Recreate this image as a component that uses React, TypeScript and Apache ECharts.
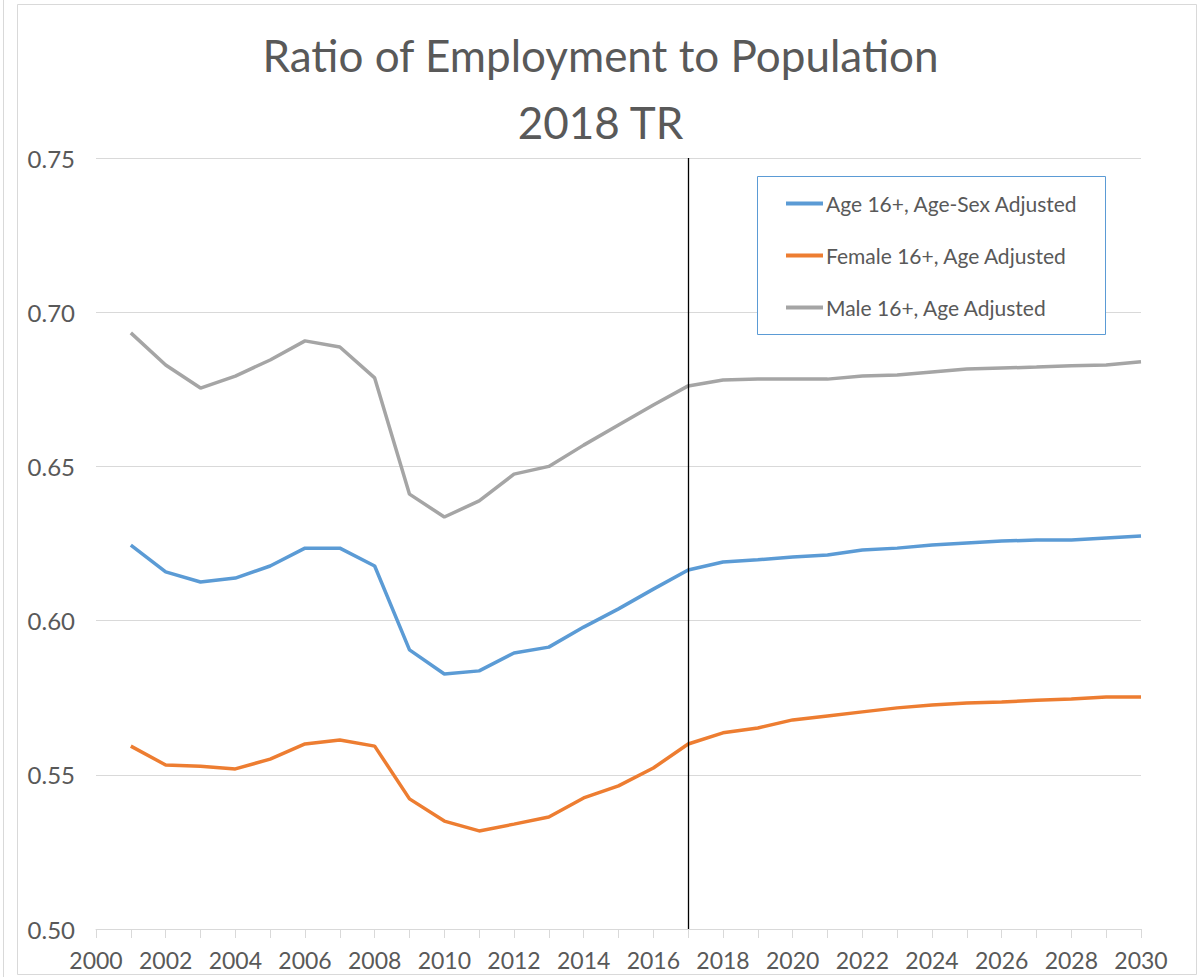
import React, { useEffect, useRef } from "react";
import * as echarts from "echarts";

const years = [2001,2002,2003,2004,2005,2006,2007,2008,2009,2010,2011,2012,2013,2014,2015,2016,2017,2018,2019,2020,2021,2022,2023,2024,2025,2026,2027,2028,2029,2030];
const ageSexAdjusted = [0.6245,0.6158,0.6125,0.6138,0.6177,0.6235,0.6235,0.6177,0.5905,0.5827,0.5837,0.5895,0.5914,0.5979,0.6038,0.6102,0.6164,0.619,0.6197,0.6206,0.6213,0.6229,0.6235,0.6245,0.6252,0.6258,0.6261,0.6261,0.6268,0.6274];
const femaleAdjusted = [0.5593,0.5532,0.5528,0.5519,0.5551,0.56,0.5613,0.5593,0.5422,0.535,0.5318,0.534,0.5363,0.5425,0.5464,0.5522,0.56,0.5636,0.5652,0.5678,0.5691,0.5704,0.5717,0.5726,0.5733,0.5736,0.5742,0.5746,0.5752,0.5752];
const maleAdjusted = [0.6933,0.6829,0.6754,0.6793,0.6845,0.6907,0.6887,0.6787,0.641,0.6336,0.6388,0.6475,0.65,0.6569,0.6634,0.6699,0.6761,0.678,0.6783,0.6783,0.6783,0.6793,0.6796,0.6806,0.6816,0.6819,0.6822,0.6826,0.6829,0.6839];
const seriesNames = ["Age 16+, Age-Sex Adjusted", "Female 16+, Age Adjusted", "Male 16+, Age Adjusted"];
const titleLines = ["Ratio of Employment to Population", "2018 TR"];
const dividerYear = 2017;

const FONT = "Lato, 'Open Sans', sans-serif";
const TXT = "#595959";

export default function App() {
  const ref = useRef<HTMLDivElement>(null);
  useEffect(() => {
    const chart = echarts.init(ref.current!, null, { renderer: "svg" });
    const mk = (arr: number[]) => years.map((y, i) => [y, arr[i]]);
    chart.setOption({
      animation: false,
      backgroundColor: "#ffffff",
      textStyle: { fontFamily: FONT },
      title: {
        text: titleLines.join("\n"),
        left: "center",
        top: 16,
        textStyle: { fontFamily: FONT, fontSize: 44, fontWeight: "normal", color: TXT, lineHeight: 67 },
      },
      grid: { left: 96, right: 60, top: 158, bottom: 48, containLabel: false },
      legend: {
        orient: "vertical",
        left: 781,
        top: 188,
        itemGap: 31,
        itemWidth: 37,
        itemHeight: 4,
        icon: "rect",
        z: 10,
        textStyle: { fontFamily: FONT, fontSize: 21, color: TXT, padding: [0, 0, 0, -2] },
        data: seriesNames,
      },
      graphic: [
        { type: "rect", shape: { x: 17.5, y: 4.5, width: 1179, height: 970 }, style: { fill: "none", stroke: "#d9d9d9", lineWidth: 1 }, z: 0 },
        { type: "line", shape: { x1: 3.5, y1: 0, x2: 3.5, y2: 977 }, style: { stroke: "#d9d9d9", lineWidth: 1 }, z: 0 },
        { type: "rect", shape: { x: 757.5, y: 176.5, width: 348, height: 158 }, style: { fill: "#ffffff", stroke: "#5b9bd5", lineWidth: 1 }, z: 1 },
      ],
      xAxis: {
        type: "value",
        min: 2000,
        max: 2030,
        interval: 1,
        axisLine: { show: true, lineStyle: { color: "#d9d9d9", width: 1 } },
        axisTick: { show: true, length: 9, lineStyle: { color: "#d9d9d9" } },
        splitLine: { show: false },
        axisLabel: {
          color: TXT,
          fontFamily: FONT,
          fontSize: 23,
          margin: 19,
          formatter: (v: number) => (v % 2 === 0 ? String(v) : ""),
        },
      },
      yAxis: {
        type: "value",
        min: 0.5,
        max: 0.75,
        interval: 0.05,
        axisLine: { show: false },
        axisTick: { show: false },
        splitLine: { lineStyle: { color: "#d9d9d9", width: 1 } },
        axisLabel: { color: TXT, fontFamily: FONT, fontSize: 24, margin: 21, formatter: (v: number) => v.toFixed(2) },
      },
      series: [
        {
          name: seriesNames[0], type: "line", data: mk(ageSexAdjusted), showSymbol: false, symbol: "none",
          lineStyle: { color: "#5b9bd5", width: 3.5 }, itemStyle: { color: "#5b9bd5" }, z: 3,
          markLine: {
            silent: true, symbol: "none", label: { show: false },
            lineStyle: { color: "#000000", width: 1.3, type: "solid" },
            data: [{ xAxis: dividerYear }],
          },
        },
        { name: seriesNames[1], type: "line", data: mk(femaleAdjusted), showSymbol: false, symbol: "none", lineStyle: { color: "#ed7d31", width: 3.5 }, itemStyle: { color: "#ed7d31" }, z: 3 },
        { name: seriesNames[2], type: "line", data: mk(maleAdjusted), showSymbol: false, symbol: "none", lineStyle: { color: "#a5a5a5", width: 3.5 }, itemStyle: { color: "#a5a5a5" }, z: 3 },
      ],
    });
    return () => chart.dispose();
  }, []);
  return <div ref={ref} style={{ position: "fixed", left: 0, top: 0, width: 1201, height: 977 }} />;
}
